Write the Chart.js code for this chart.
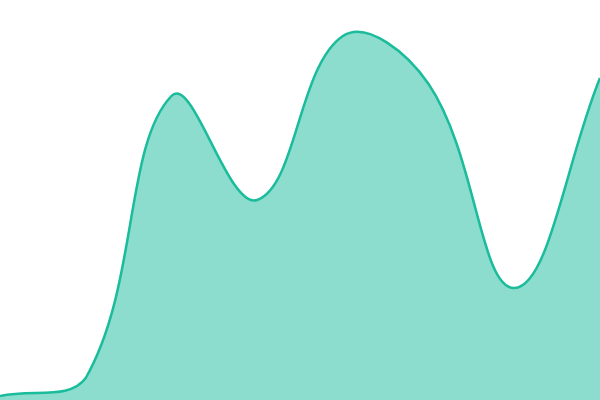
<!DOCTYPE html>
<html>
<head>
<meta charset="utf-8">
<script src="https://cdn.jsdelivr.net/npm/chart.js"></script>
<style>
  html, body { margin: 0; padding: 0; background: #fff; }
  #wrap { width: 600px; height: 400px; }
</style>
</head>
<body>
<div id="wrap"><canvas id="chart"></canvas></div>
<script>
const labels = ['1', '2', '3', '4', '5', '6', '7', '8'];
const values = [1, 5.5, 76, 50, 91, 79, 28, 80.5];

const ctx = document.getElementById('chart').getContext('2d');
new Chart(ctx, {
  type: 'line',
  data: {
    labels: labels,
    datasets: [{
      data: values,
      borderColor: '#1abc9c',
      backgroundColor: 'rgba(26, 188, 156, 0.5)',
      borderWidth: 2.5,
      fill: 'origin',
      tension: 0.4,
      pointRadius: 0
    }]
  },
  options: {
    responsive: true,
    maintainAspectRatio: false,
    animation: false,
    layout: { padding: 0 },
    plugins: { legend: { display: false }, tooltip: { enabled: false } },
    scales: {
      x: { display: false, offset: false },
      y: { display: false, min: 0, max: 100 }
    }
  }
});
</script>
</body>
</html>
